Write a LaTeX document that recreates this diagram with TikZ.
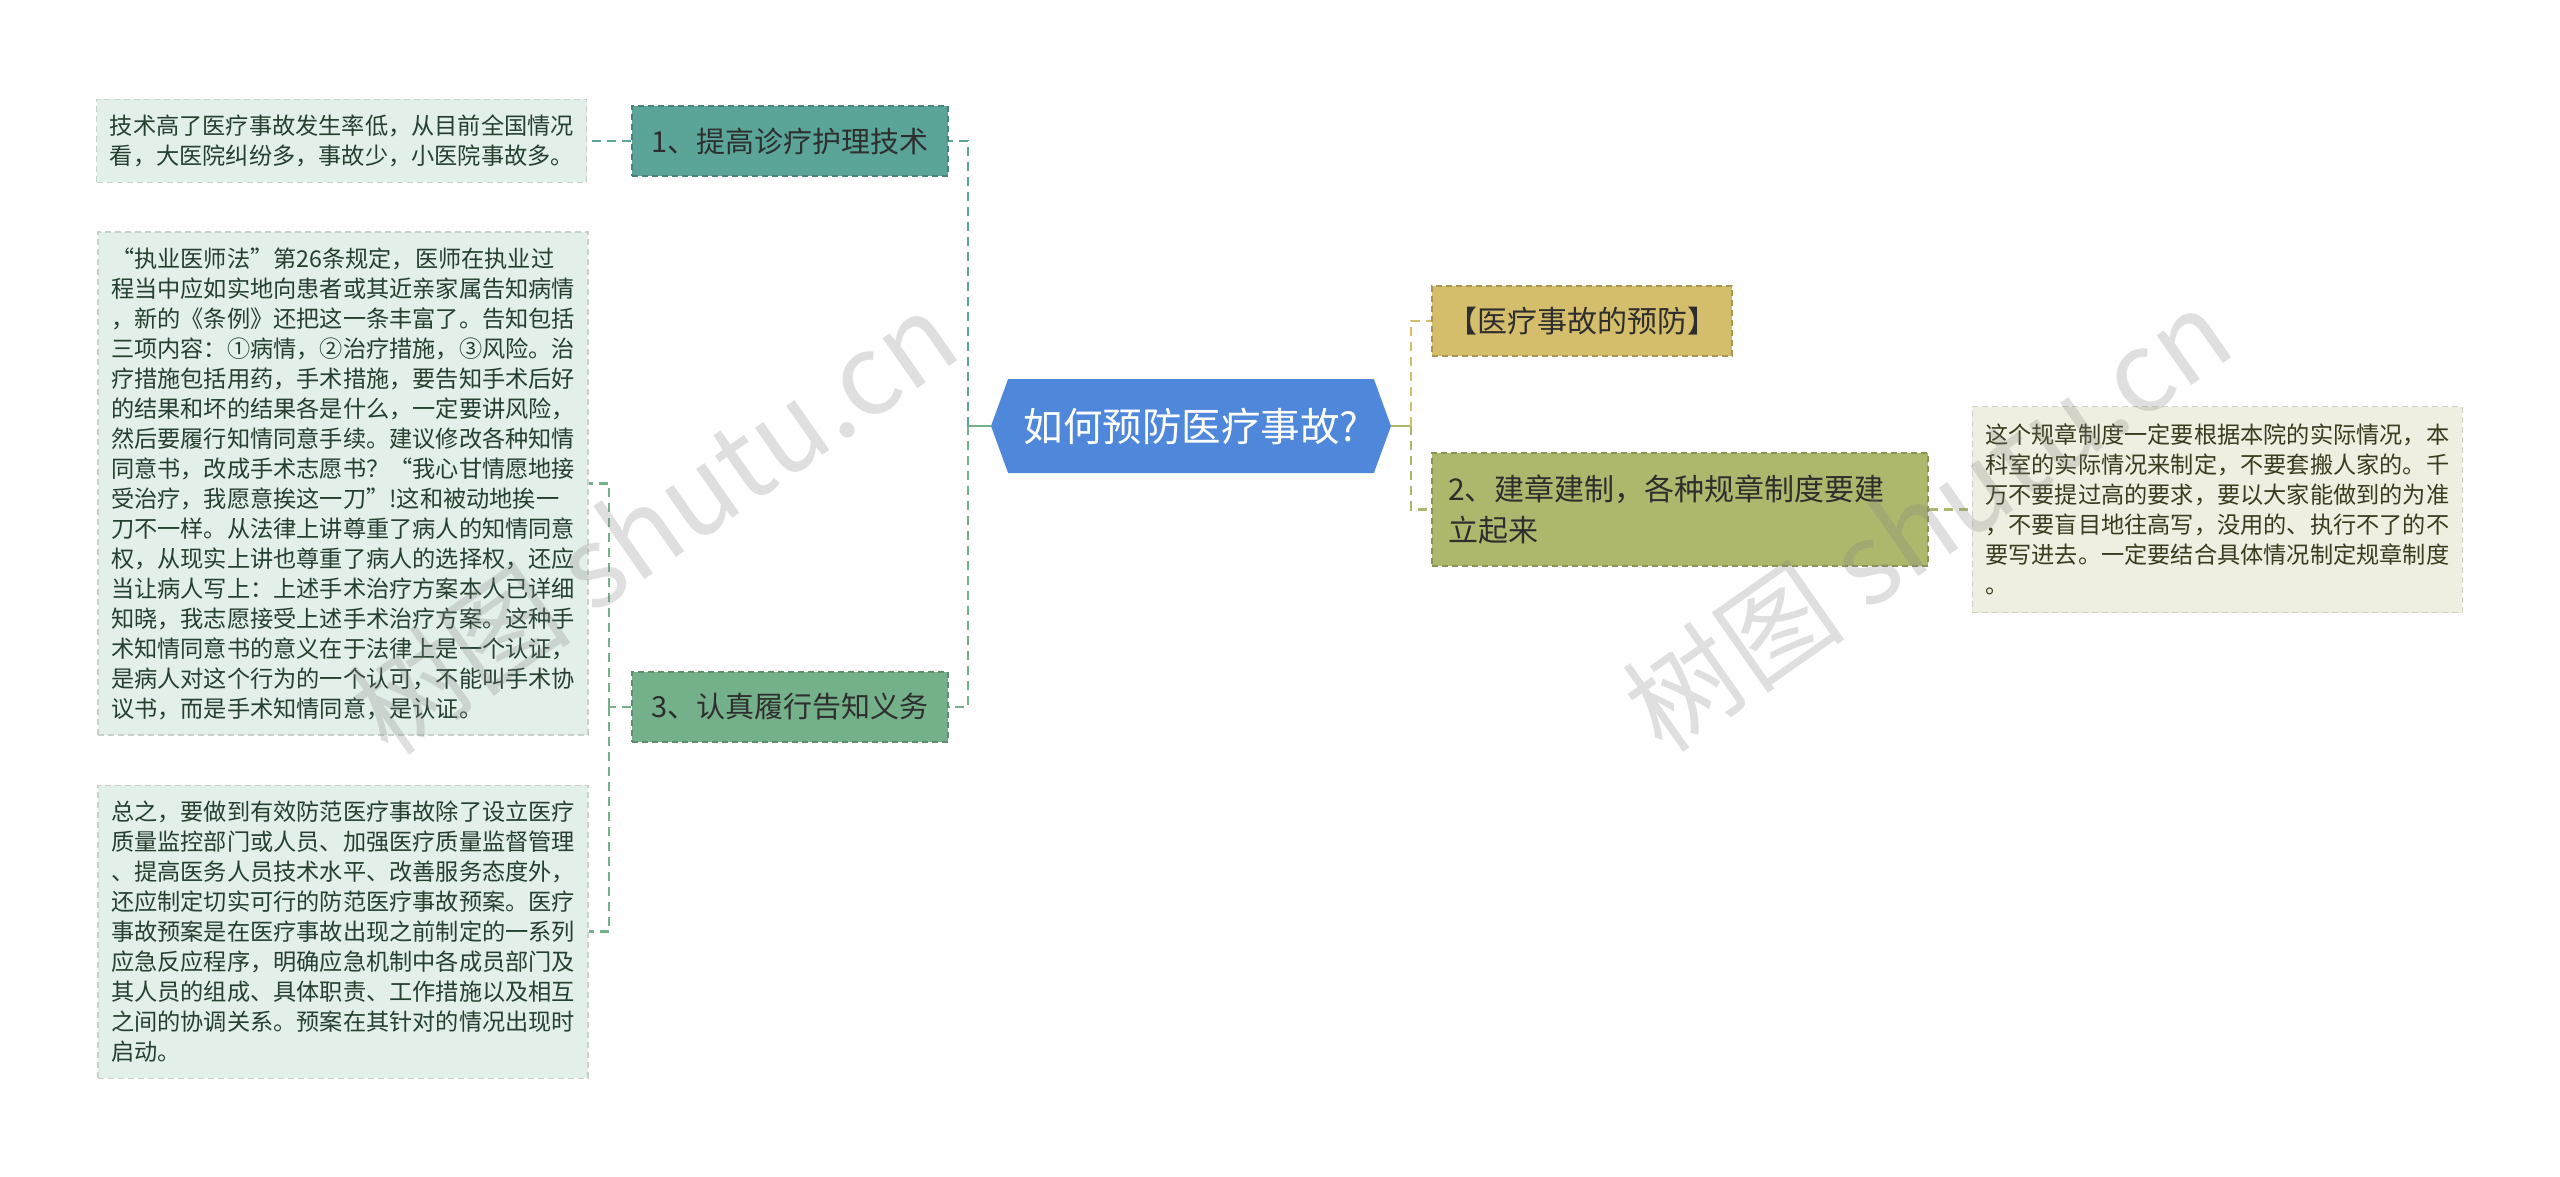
\documentclass[tikz,border=0pt]{standalone}
\usepackage{fontspec}
\setmainfont{Noto Sans CJK SC}
\usetikzlibrary{positioning}
\usetikzlibrary{shapes.symbols}

\definecolor{rootblue}{HTML}{4F87DA}
\definecolor{tealc}{HTML}{5AA498}
\definecolor{greenc}{HTML}{74B08A}
\definecolor{goldc}{HTML}{D4BD6B}
\definecolor{olivec}{HTML}{AEB86D}
\definecolor{leafgreen}{HTML}{E3EFE9}
\definecolor{leafbeige}{HTML}{EFEFE1}
\definecolor{inkgreen}{HTML}{25402F}
\definecolor{inkolive}{HTML}{3A3A1E}
\definecolor{inkdark}{HTML}{2E2E2E}

\begin{document}
\begin{tikzpicture}[x=1pt,y=-1pt,
  link/.style={dash pattern=on 9pt off 6pt, line width=2.6pt},
  stub/.style={line width=2.6pt},
  branch/.style={draw=#1!80!black, dash pattern=on 6pt off 4pt, line width=1.2pt, fill=#1, text=inkdark, inner sep=0pt, minimum height=70pt, font=\fontsize{29pt}{40pt}\selectfont},
  leaf/.style={draw=#1!88!black, dash pattern=on 6pt off 4pt, line width=1.2pt, fill=#1, text=inkgreen, align=left, text width=464pt, inner xsep=13pt, inner ysep=0pt, font=\fontsize{23.2pt}{30pt}\selectfont},
  wmark/.style={text=gray, opacity=0.25, rotate=35, font=\fontsize{112pt}{112pt}\selectfont}]
\fill[white] (0,0) rectangle (2560,1177);
\useasboundingbox (0,0) rectangle (2560,1177);

\node(m)[signal, signal to=west and east, signal pointer angle=140, fill=rootblue, text=white, minimum width=400pt, minimum height=94pt, inner sep=0pt, font=\fontsize{39.5pt}{42pt}\selectfont] at (1191,426) {如何预防医疗事故?};

\node(a)[branch=tealc, minimum width=316pt] at (790,141) {1、提高诊疗护理技术};
\node(b)[branch=greenc, minimum width=316pt] at (790,707) {3、认真履行告知义务};
\node(c)[branch=goldc, minimum width=300pt, font=\fontsize{30pt}{40pt}\selectfont] at (1582,321) {【医疗事故的预防】};
\node(d)[branch=olivec, minimum width=496pt, minimum height=113pt, align=left, text width=464pt, font=\fontsize{30pt}{41pt}\selectfont] at (1680,509.5) {2、建章建制，各种规章制度要建\\立起来};

\node(A)[leaf=leafgreen, minimum height=83pt, left=44pt of a] {技术高了医疗事故发生率低，从目前全国情况\\看，大医院纠纷多，事故少，小医院事故多。};
\node(B)[leaf=leafgreen, minimum height=503pt] at (343,483.5) {“执业医师法”第26条规定，医师在执业过\\程当中应如实地向患者或其近亲家属告知病情\\，新的《条例》还把这一条丰富了。告知包括\\三项内容：①病情，②治疗措施，③风险。治\\疗措施包括用药，手术措施，要告知手术后好\\的结果和坏的结果各是什么，一定要讲风险，\\然后要履行知情同意手续。建议修改各种知情\\同意书，改成手术志愿书？“我心甘情愿地接\\受治疗，我愿意挨这一刀”!这和被动地挨一\\刀不一样。从法律上讲尊重了病人的知情同意\\权，从现实上讲也尊重了病人的选择权，还应\\当让病人写上：上述手术治疗方案本人已详细\\知晓，我志愿接受上述手术治疗方案。这种手\\术知情同意书的意义在于法律上是一个认证，\\是病人对这个行为的一个认可，不能叫手术协\\议书，而是手术知情同意，是认证。};
\node(C)[leaf=leafgreen, minimum height=293pt, below=49pt of B] {总之，要做到有效防范医疗事故除了设立医疗\\质量监控部门或人员、加强医疗质量监督管理\\、提高医务人员技术水平、改善服务态度外，\\还应制定切实可行的防范医疗事故预案。医疗\\事故预案是在医疗事故出现之前制定的一系列\\应急反应程序，明确应急机制中各成员部门及\\其人员的组成、具体职责、工作措施以及相互\\之间的协调关系。预案在其针对的情况出现时\\启动。};
\node(D)[leaf=leafbeige, text=inkolive, minimum height=206pt, right=43pt of d] {这个规章制度一定要根据本院的实际情况，本\\科室的实际情况来制定，不要套搬人家的。千\\万不要提过高的要求，要以大家能做到的为准\\，不要盲目地往高写，没用的、执行不了的不\\要写进去。一定要结合具体情况制定规章制度\\。};

\coordinate(lj) at (968,426);
\coordinate(rj) at (1411,426);
\coordinate(bj) at (609,707);

\draw[stub, greenc] (m.west) -- (lj);
\draw[link, tealc] (lj) |- (a.east);
\draw[link, greenc] (lj) |- (b.east);
\draw[link, tealc] (a.west) -- (A.east);
\draw[link, greenc] (b.west) -- (bj);
\draw[link, greenc] (bj) |- (B.east);
\draw[link, greenc] (bj) |- (C.east);
\draw[stub, olivec] (m.east) -- (rj);
\draw[link, goldc] (rj) |- (c.west);
\draw[link, olivec] (rj) |- (d.west);
\draw[link, olivec] (d.east) -- (D.west);

\node(w)[wmark] at (653,522) {树图 shutu.cn};
\node(x)[wmark] at (1927,519) {树图 shutu.cn};
\end{tikzpicture}
\end{document}
